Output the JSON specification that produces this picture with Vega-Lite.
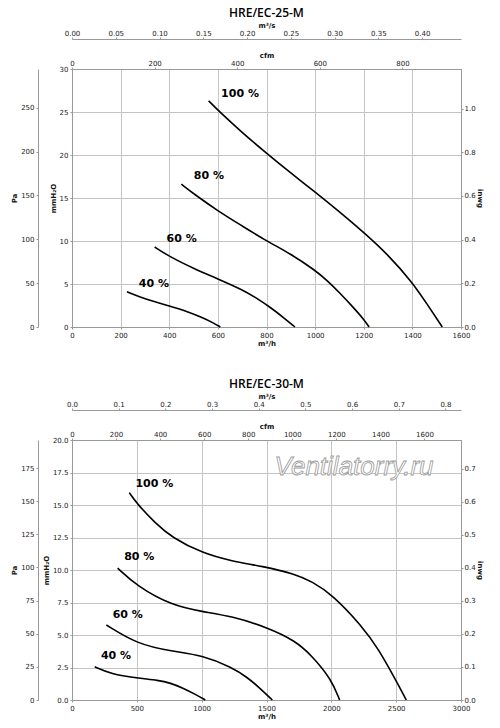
{
  "$schema": "https://vega.github.io/schema/vega-lite/v6.json",
  "padding": {"left": 10, "top": 6, "right": 5, "bottom": 5},
  "spacing": 30,
  "datasets": {
    "c25": [
      {"s": "40", "q": 226, "mm": 4.1}, {"s": "40", "q": 300, "mm": 3.25}, {"s": "40", "q": 400, "mm": 2.45},
      {"s": "40", "q": 480, "mm": 1.75}, {"s": "40", "q": 540, "mm": 1.05}, {"s": "40", "q": 580, "mm": 0.5},
      {"s": "40", "q": 610, "mm": 0},
      {"s": "60", "q": 340, "mm": 9.3}, {"s": "60", "q": 400, "mm": 8.2}, {"s": "60", "q": 500, "mm": 6.8},
      {"s": "60", "q": 600, "mm": 5.6}, {"s": "60", "q": 700, "mm": 4.35}, {"s": "60", "q": 760, "mm": 3.35},
      {"s": "60", "q": 820, "mm": 2.2}, {"s": "60", "q": 870, "mm": 1.1}, {"s": "60", "q": 917, "mm": 0},
      {"s": "80", "q": 450, "mm": 16.6}, {"s": "80", "q": 500, "mm": 15.5}, {"s": "80", "q": 600, "mm": 13.5},
      {"s": "80", "q": 700, "mm": 11.75}, {"s": "80", "q": 800, "mm": 10.0}, {"s": "80", "q": 900, "mm": 8.5},
      {"s": "80", "q": 1000, "mm": 6.6}, {"s": "80", "q": 1050, "mm": 5.4}, {"s": "80", "q": 1100, "mm": 4.0},
      {"s": "80", "q": 1150, "mm": 2.5}, {"s": "80", "q": 1200, "mm": 0.9}, {"s": "80", "q": 1222, "mm": 0},
      {"s": "100", "q": 562, "mm": 26.3}, {"s": "100", "q": 600, "mm": 25.2}, {"s": "100", "q": 700, "mm": 22.6},
      {"s": "100", "q": 800, "mm": 20.2}, {"s": "100", "q": 900, "mm": 17.9}, {"s": "100", "q": 1000, "mm": 15.7},
      {"s": "100", "q": 1100, "mm": 13.4}, {"s": "100", "q": 1200, "mm": 11.0}, {"s": "100", "q": 1300, "mm": 8.4},
      {"s": "100", "q": 1400, "mm": 5.2}, {"s": "100", "q": 1462, "mm": 2.6}, {"s": "100", "q": 1523, "mm": 0}
    ],
    "l25": [
      {"label": "100 %", "q": 691, "mm": 27.1},
      {"label": "80 %", "q": 563, "mm": 17.6},
      {"label": "60 %", "q": 451, "mm": 10.2},
      {"label": "40 %", "q": 337, "mm": 5.0}
    ],
    "c30": [
      {"s": "40", "q": 175, "mm": 2.55}, {"s": "40", "q": 300, "mm": 2.0}, {"s": "40", "q": 501, "mm": 1.68},
      {"s": "40", "q": 668, "mm": 1.52}, {"s": "40", "q": 760, "mm": 1.3}, {"s": "40", "q": 848, "mm": 0.95},
      {"s": "40", "q": 951, "mm": 0.44}, {"s": "40", "q": 1028, "mm": 0},
      {"s": "60", "q": 265, "mm": 5.77}, {"s": "60", "q": 501, "mm": 4.3}, {"s": "60", "q": 771, "mm": 3.74},
      {"s": "60", "q": 1003, "mm": 3.45}, {"s": "60", "q": 1234, "mm": 2.5}, {"s": "60", "q": 1350, "mm": 1.75},
      {"s": "60", "q": 1440, "mm": 1.0}, {"s": "60", "q": 1545, "mm": 0},
      {"s": "80", "q": 352, "mm": 10.15}, {"s": "80", "q": 501, "mm": 8.76}, {"s": "80", "q": 771, "mm": 7.27},
      {"s": "80", "q": 1003, "mm": 6.8}, {"s": "80", "q": 1234, "mm": 6.44}, {"s": "80", "q": 1504, "mm": 5.59},
      {"s": "80", "q": 1722, "mm": 4.56}, {"s": "80", "q": 1851, "mm": 3.4}, {"s": "80", "q": 2000, "mm": 1.6},
      {"s": "80", "q": 2064, "mm": 0},
      {"s": "100", "q": 442, "mm": 15.95}, {"s": "100", "q": 501, "mm": 15.1}, {"s": "100", "q": 643, "mm": 13.6},
      {"s": "100", "q": 771, "mm": 12.5}, {"s": "100", "q": 1003, "mm": 11.3}, {"s": "100", "q": 1234, "mm": 10.67},
      {"s": "100", "q": 1465, "mm": 10.3}, {"s": "100", "q": 1722, "mm": 9.7}, {"s": "100", "q": 1851, "mm": 9.1},
      {"s": "100", "q": 2000, "mm": 8.17}, {"s": "100", "q": 2236, "mm": 5.7}, {"s": "100", "q": 2365, "mm": 3.9},
      {"s": "100", "q": 2493, "mm": 1.6}, {"s": "100", "q": 2578, "mm": 0}
    ],
    "l30": [
      {"label": "100 %", "q": 635, "mm": 16.6},
      {"label": "80 %", "q": 519, "mm": 10.98},
      {"label": "60 %", "q": 430, "mm": 6.51},
      {"label": "40 %", "q": 339, "mm": 3.36}
    ],
    "wm": [
      {"label": "Ventilatorry.ru", "q": 2175, "mm": 17.95}
    ],
    "one": [{}]
  },
  "vconcat": [
    {
      "width": 389,
      "height": 258,
      "title": {"text": "HRE/EC-25-M", "font": "Open Sans", "fontSize": 12, "fontWeight": 600, "offset": 1},
      "layer": [
        {
          "data": {"name": "c25"},
          "mark": {"type": "line", "color": "black", "strokeWidth": 1.6, "interpolate": "basis"},
          "encoding": {
            "x": {"field": "q", "type": "quantitative", "scale": {"domain": [0, 1600], "nice": false},
                  "axis": {"title": "m³/h", "orient": "bottom", "grid": true, "format": "d", "titlePadding": 1, "values": [0, 200, 400, 600, 800, 1000, 1200, 1400, 1600]}},
            "y": {"field": "mm", "type": "quantitative", "scale": {"domain": [0, 30], "nice": false},
                  "axis": {"title": "mmH₂O", "orient": "left", "grid": true, "values": [0, 5, 10, 15, 20, 25, 30]}},
            "detail": {"field": "s"}
          }
        },
        {
          "data": {"name": "l25"},
          "mark": {"type": "text", "font": "DejaVu Sans", "fontSize": 11, "fontWeight": "bold", "color": "black"},
          "encoding": {
            "x": {"field": "q", "type": "quantitative", "scale": {"domain": [0, 1600], "nice": false}, "axis": null},
            "y": {"field": "mm", "type": "quantitative", "scale": {"domain": [0, 30], "nice": false}, "axis": null},
            "text": {"field": "label"}
          }
        },
        {
          "data": {"name": "one"},
          "mark": {"type": "point", "opacity": 0, "clip": true},
          "encoding": {
            "x": {"datum": 0, "type": "quantitative", "scale": {"domain": [0, 1600], "nice": false}, "axis": null},
            "y": {"datum": 0, "type": "quantitative", "scale": {"domain": [0, 294.2], "nice": false},
                  "axis": {"title": "Pa", "orient": "left", "offset": 34, "format": "d", "values": [0, 50, 100, 150, 200, 250]}}
          }
        },
        {
          "data": {"name": "one"},
          "mark": {"type": "point", "opacity": 0, "clip": true},
          "encoding": {
            "x": {"datum": 0, "type": "quantitative", "scale": {"domain": [0, 1600], "nice": false}, "axis": null},
            "y": {"datum": 0, "type": "quantitative", "scale": {"domain": [0, 1.1811], "nice": false},
                  "axis": {"title": "inwg", "orient": "right", "format": ".1f", "labelPadding": 1, "titlePadding": 1, "values": [0, 0.2, 0.4, 0.6, 0.8, 1.0]}}
          }
        },
        {
          "data": {"name": "one"},
          "mark": {"type": "point", "opacity": 0, "clip": true},
          "encoding": {
            "x": {"datum": 0, "type": "quantitative", "scale": {"domain": [0, 941.7], "nice": false},
                  "axis": {"title": "cfm", "orient": "top", "format": "d", "labelPadding": 1, "titlePadding": 1, "values": [0, 200, 400, 600, 800]}},
            "y": {"datum": 0, "type": "quantitative", "scale": {"domain": [0, 30], "nice": false}, "axis": null}
          }
        },
        {
          "data": {"name": "one"},
          "mark": {"type": "point", "opacity": 0, "clip": true},
          "encoding": {
            "x": {"datum": 0, "type": "quantitative", "scale": {"domain": [0, 0.4444], "nice": false},
                  "axis": {"title": "m³/s", "orient": "top", "offset": 30, "format": ".2f", "labelPadding": 1, "titlePadding": 1, "values": [0, 0.05, 0.1, 0.15, 0.2, 0.25, 0.3, 0.35, 0.4]}},
            "y": {"datum": 0, "type": "quantitative", "scale": {"domain": [0, 30], "nice": false}, "axis": null}
          }
        }
      ],
      "resolve": {"scale": {"x": "independent", "y": "independent"}}
    },
    {
      "width": 389,
      "height": 260,
      "title": {"text": "HRE/EC-30-M", "font": "Open Sans", "fontSize": 12, "fontWeight": 600, "offset": 1},
      "layer": [
        {
          "data": {"name": "c30"},
          "mark": {"type": "line", "color": "black", "strokeWidth": 1.6, "interpolate": "basis"},
          "encoding": {
            "x": {"field": "q", "type": "quantitative", "scale": {"domain": [0, 3000], "nice": false},
                  "axis": {"title": "m³/h", "orient": "bottom", "grid": true, "format": "d", "titlePadding": 1, "values": [0, 500, 1000, 1500, 2000, 2500, 3000]}},
            "y": {"field": "mm", "type": "quantitative", "scale": {"domain": [0, 20], "nice": false},
                  "axis": {"title": "mmH₂O", "orient": "left", "grid": true, "format": ".1f", "values": [0, 2.5, 5, 7.5, 10, 12.5, 15, 17.5, 20]}},
            "detail": {"field": "s"}
          }
        },
        {
          "data": {"name": "l30"},
          "mark": {"type": "text", "font": "DejaVu Sans", "fontSize": 11, "fontWeight": "bold", "color": "black"},
          "encoding": {
            "x": {"field": "q", "type": "quantitative", "scale": {"domain": [0, 3000], "nice": false}, "axis": null},
            "y": {"field": "mm", "type": "quantitative", "scale": {"domain": [0, 20], "nice": false}, "axis": null},
            "text": {"field": "label"}
          }
        },
        {
          "data": {"name": "wm"},
          "mark": {"type": "text", "font": "Liberation Sans", "fontSize": 26, "fontStyle": "italic", "fill": "white", "stroke": "#9a9a9a", "strokeWidth": 0.8},
          "encoding": {
            "x": {"field": "q", "type": "quantitative", "scale": {"domain": [0, 3000], "nice": false}, "axis": null},
            "y": {"field": "mm", "type": "quantitative", "scale": {"domain": [0, 20], "nice": false}, "axis": null},
            "text": {"field": "label"}
          }
        },
        {
          "data": {"name": "one"},
          "mark": {"type": "point", "opacity": 0, "clip": true},
          "encoding": {
            "x": {"datum": 0, "type": "quantitative", "scale": {"domain": [0, 3000], "nice": false}, "axis": null},
            "y": {"datum": 0, "type": "quantitative", "scale": {"domain": [0, 196.13], "nice": false},
                  "axis": {"title": "Pa", "orient": "left", "offset": 34, "format": "d", "values": [0, 25, 50, 75, 100, 125, 150, 175]}}
          }
        },
        {
          "data": {"name": "one"},
          "mark": {"type": "point", "opacity": 0, "clip": true},
          "encoding": {
            "x": {"datum": 0, "type": "quantitative", "scale": {"domain": [0, 3000], "nice": false}, "axis": null},
            "y": {"datum": 0, "type": "quantitative", "scale": {"domain": [0, 0.7874], "nice": false},
                  "axis": {"title": "inwg", "orient": "right", "format": ".1f", "labelPadding": 1, "titlePadding": 1, "values": [0, 0.1, 0.2, 0.3, 0.4, 0.5, 0.6, 0.7]}}
          }
        },
        {
          "data": {"name": "one"},
          "mark": {"type": "point", "opacity": 0, "clip": true},
          "encoding": {
            "x": {"datum": 0, "type": "quantitative", "scale": {"domain": [0, 1765.7], "nice": false},
                  "axis": {"title": "cfm", "orient": "top", "format": "d", "labelPadding": 1, "titlePadding": 1, "values": [0, 200, 400, 600, 800, 1000, 1200, 1400, 1600]}},
            "y": {"datum": 0, "type": "quantitative", "scale": {"domain": [0, 20], "nice": false}, "axis": null}
          }
        },
        {
          "data": {"name": "one"},
          "mark": {"type": "point", "opacity": 0, "clip": true},
          "encoding": {
            "x": {"datum": 0, "type": "quantitative", "scale": {"domain": [0, 0.8333], "nice": false},
                  "axis": {"title": "m³/s", "orient": "top", "offset": 30, "format": ".1f", "labelPadding": 1, "titlePadding": 1, "values": [0, 0.1, 0.2, 0.3, 0.4, 0.5, 0.6, 0.7, 0.8]}},
            "y": {"datum": 0, "type": "quantitative", "scale": {"domain": [0, 20], "nice": false}, "axis": null}
          }
        }
      ],
      "resolve": {"scale": {"x": "independent", "y": "independent"}}
    }
  ],
  "config": {
    "view": {"stroke": "#999"},
    "axis": {
      "grid": false,
      "gridColor": "#c4c4c4",
      "gridWidth": 1,
      "domainColor": "#999",
      "tickColor": "#999",
      "tickSize": 2,
      "labelPadding": 2,
      "labelFont": "DejaVu Sans",
      "labelFontSize": 7,
      "labelColor": "#222",
      "labelFlush": false,
      "labelOverlap": false,
      "titleFont": "DejaVu Sans",
      "titleFontSize": 7,
      "titleFontWeight": "bold",
      "titleColor": "#111",
      "titlePadding": 3
    }
  }
}
